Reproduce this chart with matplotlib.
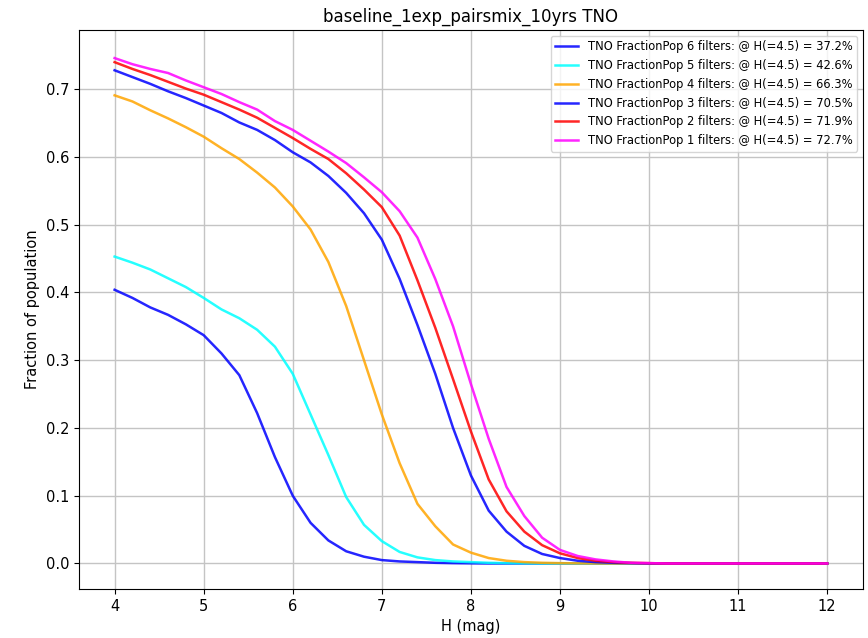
import numpy as np
import matplotlib
matplotlib.use("Agg")
import matplotlib.pyplot as plt

H = np.round(np.arange(4.0, 12.0001, 0.2), 1)

frac_6 = [0.404, 0.392, 0.378, 0.367, 0.353, 0.337, 0.310, 0.278, 0.222, 0.157,
          0.100, 0.060, 0.034, 0.018, 0.010, 0.005, 0.003, 0.002, 0.001, 0.0005,
          0.0002]
frac_5 = [0.453, 0.444, 0.434, 0.421, 0.408, 0.392, 0.375, 0.362, 0.345, 0.320,
          0.280, 0.220, 0.160, 0.098, 0.057, 0.033, 0.017, 0.009, 0.005, 0.003,
          0.002, 0.001, 0.0005, 0.0002]
frac_4 = [0.691, 0.682, 0.669, 0.657, 0.644, 0.630, 0.613, 0.597, 0.577, 0.555,
          0.527, 0.493, 0.445, 0.380, 0.300, 0.220, 0.148, 0.088, 0.055, 0.028,
          0.016, 0.008, 0.004, 0.002, 0.001, 0.0005, 0.0002]
frac_3 = [0.728, 0.718, 0.708, 0.697, 0.687, 0.676, 0.665, 0.651, 0.640, 0.625,
          0.607, 0.592, 0.572, 0.547, 0.517, 0.478, 0.420, 0.352, 0.280, 0.200,
          0.130, 0.078, 0.047, 0.026, 0.014, 0.008, 0.004, 0.002, 0.001, 0.0005]
frac_2 = [0.740, 0.730, 0.721, 0.711, 0.701, 0.692, 0.681, 0.670, 0.658, 0.643,
          0.628, 0.612, 0.597, 0.576, 0.552, 0.526, 0.484, 0.418, 0.348, 0.272,
          0.195, 0.124, 0.077, 0.047, 0.027, 0.015, 0.008, 0.004, 0.002, 0.001,
          0.0005]
frac_1 = [0.746, 0.737, 0.730, 0.724, 0.713, 0.703, 0.693, 0.681, 0.670, 0.653,
          0.640, 0.624, 0.608, 0.591, 0.570, 0.548, 0.520, 0.481, 0.420, 0.350,
          0.265, 0.184, 0.113, 0.070, 0.038, 0.020, 0.011, 0.006, 0.003, 0.001,
          0.0005]

n_filters = [6, 5, 4, 3, 2, 1]
at_45 = [37.2, 42.6, 66.3, 70.5, 71.9, 72.7]
colors = ["blue", "cyan", "orange", "blue", "red", "magenta"]
series = [frac_6, frac_5, frac_4, frac_3, frac_2, frac_1]


def pad(vals):
    out = np.zeros(len(H))
    out[:len(vals)] = vals
    return out


fig = plt.figure(figsize=(8.68, 6.38), dpi=100)
ax = fig.add_axes([0.091, 0.077, 0.903, 0.876])

for n, v, c, s in zip(n_filters, at_45, colors, series):
    ax.plot(H, pad(s), color=c, lw=1.8, alpha=0.85,
            label=f"TNO FractionPop {n} filters: @ H(=4.5) = {v:.1f}%")

ax.set_xlim(3.6, 12.4)
ax.set_ylim(-0.0375, 0.7875)
ax.set_xticks(np.arange(4, 13, 1))
ax.set_yticks(np.arange(0, 0.71, 0.1))
ax.grid(True, color="#c4c4c4", lw=1.0)
ax.tick_params(labelsize=10.5)
ax.set_xlabel("H (mag)", fontsize=10.5)
ax.set_ylabel("Fraction of population", fontsize=10.5)
ax.set_title("baseline_1exp_pairsmix_10yrs TNO", fontsize=12)
ax.legend(loc="upper right", fontsize=8.3, handlelength=2.0)

fig.savefig("out.png", dpi=100)
